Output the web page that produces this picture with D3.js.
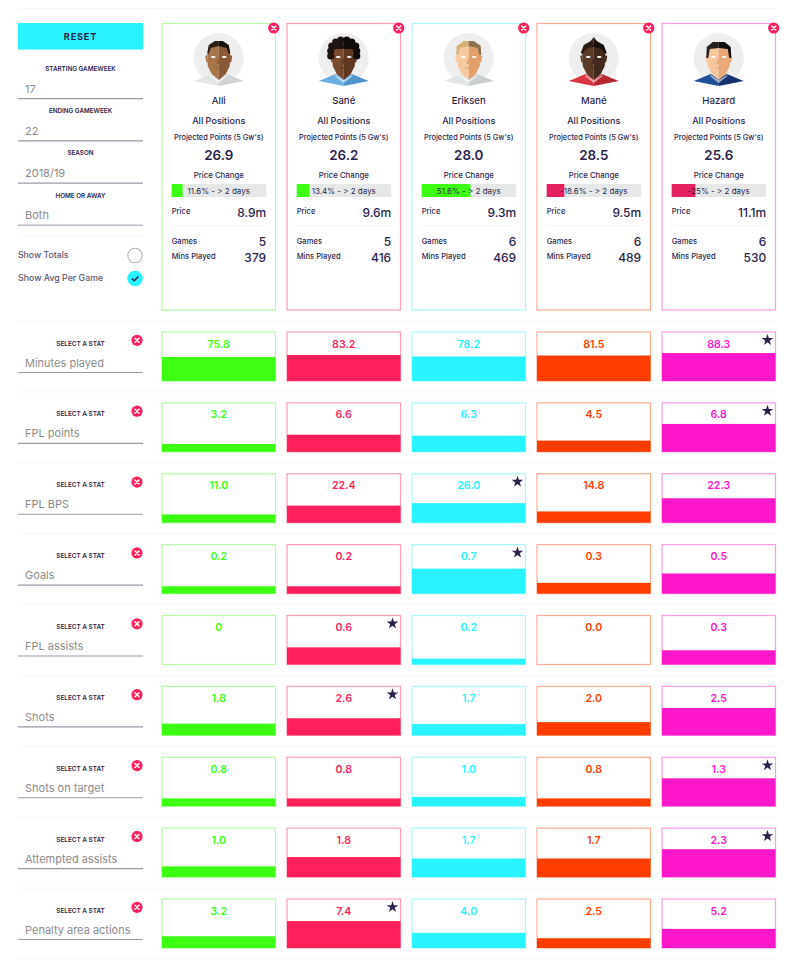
<!DOCTYPE html>
<html>
<head>
<meta charset="utf-8">
<script src="https://cdn.jsdelivr.net/npm/d3@7"></script>
<style>
  body { margin: 0; background: #fff; }
  svg { display: block; }
  text { font-family: "Inter", "Open Sans", sans-serif; fill: #2b1f4b; }
  .tiny { font-size: 6.3px; font-weight: 600; text-anchor: middle; }
  .input { font-size: 11px; fill: #8c8c8c; }
  .small { font-size: 7.6px; font-weight: 500; }
  .num { font-size: 12px; font-weight: 500; text-anchor: end; }
</style>
</head>
<body>
<div id="chart"></div>
<script>
const players = ["Alli", "Sané", "Eriksen", "Mané", "Hazard"];
const projected = ["26.9", "26.2", "28.0", "28.5", "25.6"];
const priceChange = [11.6, 13.4, 51.6, -18.6, -25];
const prices = ["8.9m", "9.6m", "9.3m", "9.5m", "11.1m"];
const games = [5, 5, 6, 6, 6];
const minsPlayed = [379, 416, 469, 489, 530];

const statNames = ["Minutes played", "FPL points", "FPL BPS", "Goals", "FPL assists", "Shots",
  "Shots on target", "Attempted assists", "Penalty area actions"];
// printed values, one row per stat
const statValues = [
  ["75.8", "83.2", "78.2", "81.5", "88.3"],
  ["3.2", "6.6", "6.3", "4.5", "6.8"],
  ["11.0", "22.4", "26.0", "14.8", "22.3"],
  ["0.2", "0.2", "0.7", "0.3", "0.5"],
  ["0", "0.6", "0.2", "0.0", "0.3"],
  ["1.8", "2.6", "1.7", "2.0", "2.5"],
  ["0.8", "0.8", "1.0", "0.8", "1.3"],
  ["1.0", "1.8", "1.7", "1.7", "2.3"],
  ["3.2", "7.4", "4.0", "2.5", "5.2"],
];
// how full each box is, in percent (not the same as the printed value)
const statFill = [
  [49, 53, 50, 52, 57],
  [16, 35, 33, 23, 57],
  [17, 35, 40, 23, 50],
  [15, 15, 51, 22, 41],
  [0, 35, 12, 0, 29],
  [24, 35, 23, 27, 56],
  [16, 16, 19, 16, 57],
  [22, 41, 38, 38, 57],
  [24, 55, 31, 20, 39],
];

const filters = [
  ["STARTING GAMEWEEK", "17"],
  ["ENDING GAMEWEEK", "22"],
  ["SEASON", "2018/19"],
  ["HOME OR AWAY", "Both"],
];

const COLORS = ["#3dff14", "#ff1f5a", "#29f3ff", "#ff3d00", "#ff17cb"];
const BORDERS = ["#b4fca6", "#ff9db4", "#a6f9ff", "#ffab92", "#ff9bea"];
const INK = "#2b1f4b";
const RED = "#ff1f5a";

// avatar look per player
const SKIN_L = ["#a8744a", "#7a4a2c", "#f6c9a0", "#5b3a28", "#f6c79c"];
const SKIN_D = ["#8a5a36", "#5f3720", "#e29f68", "#43291c", "#e8a878"];
const HAIR_L = ["#2a2019", "#1e1510", "#d6b070", "#2b1b13", "#23201f"];
const HAIR_D = ["#14100d", "#120c09", "#8d7150", "#18100c", "#111"];
const SHIRT_L = ["#e3e6e6", "#6aaee0", "#e3e6e6", "#d9343f", "#1c4f96"];
const SHIRT_D = ["#cfd3d3", "#4f94cc", "#c9cfcf", "#b8262f", "#16336f"];

const W = 800, H = 971;
const svg = d3.select("#chart").append("svg").attr("width", W).attr("height", H);

const x = d3.scaleBand().domain(d3.range(players.length)).range([162, 775.5]).paddingInner(0.092);
const y = d3.scaleBand().domain(d3.range(statNames.length)).range([332, 948]).paddingInner(0.309);
const boxH = y.bandwidth();
const fillH = d3.scaleLinear().domain([0, 100]).range([0, boxH]);
const priceW = d3.scaleLinear().domain([0, 100]).range([0, 94.5]);

function closeBtn(g, cx, cy) {
  g.append("circle").attr("cx", cx).attr("cy", cy).attr("r", 5.6).attr("fill", RED);
  g.append("path")
    .attr("d", `M${cx - 2},${cy - 2}L${cx + 2},${cy + 2}M${cx + 2},${cy - 2}L${cx - 2},${cy + 2}`)
    .attr("stroke", "#fff").attr("stroke-width", 1.5).attr("stroke-linecap", "round");
}

function hline(yy, x0, x1, color, w) {
  svg.append("line").attr("x1", x0).attr("x2", x1).attr("y1", yy).attr("y2", yy)
    .attr("stroke", color).attr("stroke-width", w || 1);
}

// ── Left panel ──────────────────────────────────────────────

hline(8.5, 18, 776, "#f6f6f6", 1.2);

svg.append("rect").attr("x", 18).attr("y", 23).attr("width", 125).attr("height", 26.5).attr("fill", COLORS[2]);
svg.append("text").attr("x", 80.5).attr("y", 40).attr("text-anchor", "middle")
  .style("font-size", "9.2px").style("font-weight", 700).style("letter-spacing", "0.8px").text("RESET");

filters.forEach(([label, val], i) => {
  const top = 71 + i * 42.2;
  svg.append("text").attr("class", "tiny").attr("x", 80.5).attr("y", top).text(label);
  svg.append("text").attr("class", "input").attr("x", 25).attr("y", top + 21.5).text(val);
  hline(top + 27.7, 18, 143, i === 3 ? "#bdb7c8" : "#9c98aa", i === 3 ? 1.5 : 1.2);
});

hline(236.5, 18, 143, "#f6f6f6", 1);

svg.append("text").attr("x", 18).attr("y", 258).style("font-size", "8.7px").style("fill", "#5c5670")
  .style("font-weight", 500).text("Show Totals");
svg.append("text").attr("x", 18).attr("y", 281).style("font-size", "8.8px").style("fill", "#5c5670")
  .style("font-weight", 500).text("Show Avg Per Game");
svg.append("circle").attr("cx", 135).attr("cy", 255.5).attr("r", 7.2).attr("fill", "#fff")
  .attr("stroke", "#b5b5b5").attr("stroke-width", 1.1);
svg.append("circle").attr("cx", 135).attr("cy", 278.5).attr("r", 7.8).attr("fill", COLORS[2]);
svg.append("path").attr("d", "M131.8,278.5L134.2,280.8L138.4,276.4").attr("fill", "none")
  .attr("stroke", INK).attr("stroke-width", 1.5);

// ── Avatars ─────────────────────────────────────────────────

function drawHair(g, i) {
  const L = HAIR_L[i], D = HAIR_D[i];
  const half = (d, c) => g.append("path").attr("d", d).attr("fill", c);
  if (i === 0) {
    half("M-11.5,-5L-10,-13L-4,-17L0,-17L0,-12L-8,-10L-10,-4Z", L);
    half("M11.5,-5L10,-13L4,-17L0,-17L0,-12L8,-10L10,-4Z", D);
  } else if (i === 1) {
    // curly top built from small circles
    [[-13, -7], [-12, -12], [-8, -16], [-3, -18], [-13, -2]].forEach(([a, b]) =>
      g.append("circle").attr("cx", a).attr("cy", b).attr("r", 3.6).attr("fill", L));
    [[13, -7], [12, -12], [8, -16], [3, -18], [13, -2]].forEach(([a, b]) =>
      g.append("circle").attr("cx", a).attr("cy", b).attr("r", 3.6).attr("fill", D));
    half("M-12,-5L-11,-15L0,-18L0,-9L-9,-9Z", L);
    half("M12,-5L11,-15L0,-18L0,-9L9,-9Z", D);
  } else if (i === 2) {
    half("M-12.5,-3L-12,-12L-5,-17L0,-17L0,-12L-9,-10L-10.5,-3Z", L);
    half("M12.5,-3L12,-12L5,-17L0,-17L0,-12L9,-10L10.5,-3Z", D);
  } else if (i === 3) {
    half("M-13,-5L-10,-13L-3,-17L0,-21L0,-11L-8,-9L-11,-4Z", L);
    half("M13,-5L10,-13L3,-17L0,-21L0,-11L8,-9L11,-4Z", D);
  } else {
    half("M-12.5,0L-12,-11L-6,-16L0,-16L0,-10L-9,-9L-10.5,0Z", L);
    half("M12.5,0L12,-11L6,-16L0,-16L0,-10L9,-9L10.5,0Z", D);
  }
}

function drawAvatar(parent, cx, i) {
  const g = parent.append("g").attr("transform", `translate(${cx},58)`);
  g.append("circle").attr("r", 25).attr("fill", "#eeeeee");
  // shirt
  g.append("path").attr("d", "M-25,23L-8,16L0,21L0,28L-15,25Z").attr("fill", SHIRT_L[i]);
  g.append("path").attr("d", "M25,23L8,16L0,21L0,28L15,25Z").attr("fill", SHIRT_D[i]);
  // head + neck, two tones split down the middle
  g.append("path").attr("d", "M0,-14L-10,-11L-11.5,-3L-11,8L-8,14L-7,16L0,22Z").attr("fill", SKIN_L[i]);
  g.append("path").attr("d", "M0,-14L10,-11L11.5,-3L11,8L8,14L7,16L0,22Z").attr("fill", SKIN_D[i]);
  g.append("path").attr("d", "M-11.5,-3L-13.5,-2L-12.5,4L-11,5Z").attr("fill", SKIN_L[i]);
  g.append("path").attr("d", "M11.5,-3L13.5,-2L12.5,4L11,5Z").attr("fill", SKIN_D[i]);
  // collar
  g.append("path").attr("d", "M-8,17L0,22L8,17L9,18L0,25L-9,18Z").attr("fill", "#fff").attr("opacity", 0.55);
  drawHair(g, i);
  // eyes, nose shadow, mouth
  g.append("ellipse").attr("cx", -5.5).attr("cy", -1).attr("rx", 2.4).attr("ry", 1).attr("fill", "#fff");
  g.append("ellipse").attr("cx", 5.5).attr("cy", -1).attr("rx", 2.4).attr("ry", 1).attr("fill", "#fff");
  g.append("path").attr("d", "M0,-1L0,6L-2.5,6Z").attr("fill", SKIN_D[i]);
  g.append("path").attr("d", "M-3.5,10L3.5,10").attr("stroke", SKIN_D[i]).attr("stroke-width", 1);
}

// ── Player cards ────────────────────────────────────────────

players.forEach((name, i) => {
  const left = x(i), w = x.bandwidth(), cx = left + w / 2;
  const inL = left + 9.7, inR = left + 104.2;
  const g = svg.append("g");
  g.append("rect").attr("x", left).attr("y", 23.5).attr("width", w).attr("height", 286.5)
    .attr("fill", "#fff").attr("stroke", BORDERS[i]).attr("stroke-width", 1.2);
  drawAvatar(g, cx, i);

  const mid = (yy, txt, size, weight) => g.append("text").attr("x", cx).attr("y", yy)
    .attr("text-anchor", "middle").style("font-size", size + "px")
    .style("font-weight", weight || 500).text(txt);
  mid(104, name, 9.6);
  mid(123.5, "All Positions", 9.1);
  mid(140, "Projected Points (5 Gw's)", 7.4);
  mid(160, projected[i], 13.4, 600);
  mid(177.5, "Price Change", 7.8);

  const pc = priceChange[i];
  g.append("rect").attr("x", inL).attr("y", 184).attr("width", 94.5).attr("height", 13).attr("fill", "#e6e8e8");
  g.append("rect").attr("x", inL).attr("y", 184).attr("width", priceW(Math.abs(pc))).attr("height", 13)
    .attr("fill", pc > 0 ? COLORS[0] : "#e4205f");
  mid(193.6, `${pc}% - > 2 days`, 8, 400).style("fill", INK);

  g.append("text").attr("class", "small").attr("x", inL).attr("y", 214.3).text("Price");
  g.append("text").attr("class", "num").attr("x", inR).attr("y", 216.5).text(prices[i]);
  g.append("line").attr("x1", inL).attr("x2", inR).attr("y1", 225.5).attr("y2", 225.5).attr("stroke", "#f5f5f5");
  g.append("text").attr("class", "small").attr("x", inL).attr("y", 244.3).text("Games");
  g.append("text").attr("class", "num").attr("x", inR).attr("y", 246).text(games[i]);
  g.append("text").attr("class", "small").attr("x", inL).attr("y", 259.3).text("Mins Played");
  g.append("text").attr("class", "num").attr("x", inR).attr("y", 261.5).text(minsPlayed[i]);

  closeBtn(g, left + w - 1.8, 28);
});

// ── Stat rows ───────────────────────────────────────────────

const star = d3.symbol(d3.symbolStar).size(42);

statNames.forEach((stat, r) => {
  const top = y(r);
  hline(top - 11, 18, 776, "#f6f6f6", 1);

  const row = svg.append("g");
  row.append("text").attr("class", "tiny").attr("x", 80.5).attr("y", top + 13.5)
    .style("font-size", "6.4px").text("SELECT A STAT");
  row.append("text").attr("class", "input").attr("x", 25).attr("y", top + 34.5).text(stat);
  row.append("line").attr("x1", 18).attr("x2", 143).attr("y1", top + 40.5).attr("y2", top + 40.5)
    .attr("stroke", "#9c98aa").attr("stroke-width", 1.2);
  closeBtn(row, 137, top + 8.3);

  const best = d3.maxIndex(statValues[r], (d) => +d);

  players.forEach((_, i) => {
    const left = x(i), w = x.bandwidth();
    const h = fillH(statFill[r][i]);
    row.append("rect").attr("x", left).attr("y", top).attr("width", w).attr("height", boxH)
      .attr("fill", "#fff").attr("stroke", BORDERS[i]).attr("stroke-width", 1.2);
    if (h > 0) {
      row.append("rect").attr("x", left).attr("y", top + boxH - h).attr("width", w).attr("height", h)
        .attr("fill", COLORS[i]);
    }
    row.append("text").attr("x", left + w / 2).attr("y", top + 15.5).attr("text-anchor", "middle")
      .style("font-size", "10.6px").style("font-weight", 600).style("fill", COLORS[i])
      .text(statValues[r][i]);
    if (i === best) {
      row.append("path").attr("d", star)
        .attr("transform", `translate(${left + w - 8},${top + 8})`).attr("fill", INK);
    }
  });
});
hline(y(8) + boxH + 11, 18, 776, "#f6f6f6", 1);
</script>
</body>
</html>
